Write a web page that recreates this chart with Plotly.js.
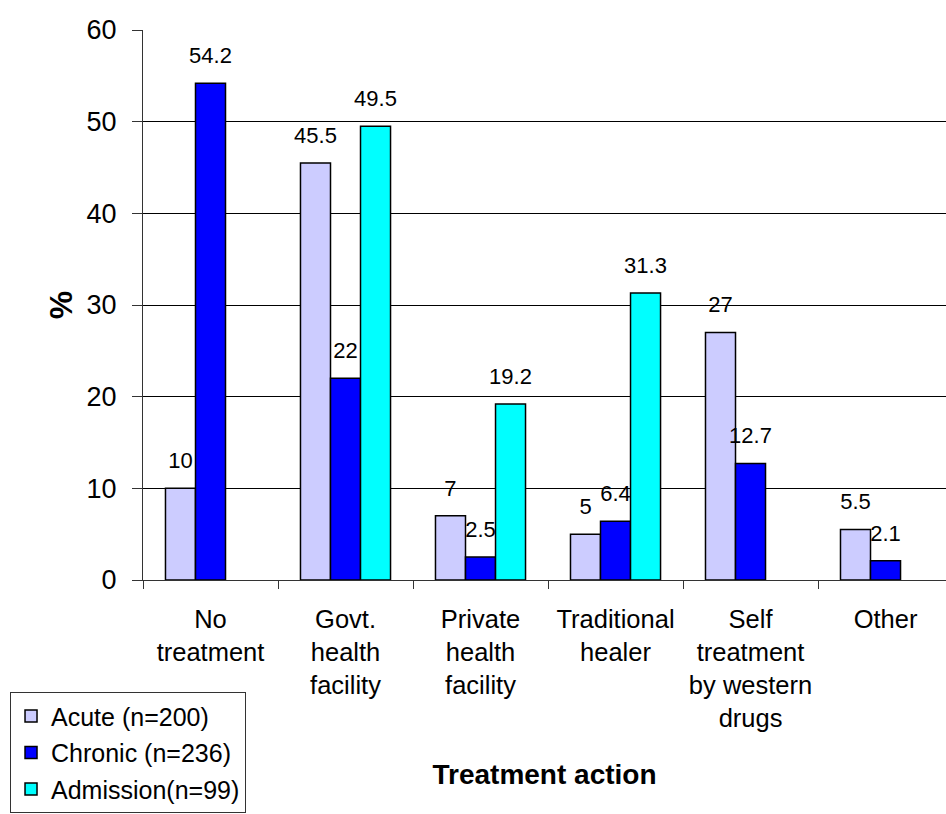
<!DOCTYPE html>
<html>
<head>
<meta charset="utf-8">
<script src="https://cdn.plot.ly/plotly-3.0.1.min.js"></script>
<style>html,body{margin:0;padding:0;background:#fff;}#chart{width:946px;height:814px;}</style>
</head>
<body>
<div id="chart"></div>
<script>
var categories = ["No treatment", "Govt. health facility", "Private health facility", "Traditional healer", "Self treatment by western drugs", "Other"];
var tickLabels = ["No<br>treatment", "Govt.<br>health<br>facility", "Private<br>health<br>facility", "Traditional<br>healer", "Self<br>treatment<br>by western<br>drugs", "Other"];
var seriesNames = ["Acute (n=200)", "Chronic (n=236)", "Admission(n=99)"];
var acute = [10, 45.5, 7, 5, 27, 5.5];
var chronic = [54.2, 22, 2.5, 6.4, 12.7, 2.1];
var admission = [null, 49.5, 19.2, 31.3, null, null];
var colors = ["#CCCCFF", "#0000FF", "#00FFFF"];

var FONT = "Liberation Sans, Arial, sans-serif";
var series = [acute, chronic, admission];
var traces = [];
series.forEach(function (vals, i) {
  traces.push({
    type: "bar", x: categories, y: vals, name: seriesNames[i],
    legendgroup: "g" + i,
    marker: { color: colors[i], line: { color: "#000", width: 1.5 } },
    hoverinfo: "skip"
  });
});
series.forEach(function (vals, i) {
  traces.push({
    type: "scatter", mode: "markers+text", x: categories, y: vals,
    text: vals.map(function (v) { return v === null ? "" : String(v); }),
    textposition: "top center",
    textfont: { family: FONT, size: 22, color: "#000" },
    marker: { size: 22, opacity: 0 },
    showlegend: false, hoverinfo: "skip", cliponaxis: false
  });
});

var layout = {
  width: 946, height: 814,
  margin: { l: 143, r: 0, t: 30, b: 234 },
  paper_bgcolor: "#fff", plot_bgcolor: "#fff",
  font: { family: FONT, color: "#000" },
  barmode: "group", bargap: 0.333, bargroupgap: 0,
  scattermode: "group",
  showlegend: true,
  legend: {
    x: -0.1656, y: -0.204, xanchor: "left", yanchor: "top",
    bordercolor: "#333", borderwidth: 1, bgcolor: "#fff",
    font: { family: FONT, size: 25, color: "#000" },
    tracegroupgap: 1
  },
  xaxis: {
    type: "category", range: [-0.5, 5.448],
    tickvals: categories, ticktext: tickLabels,
    tickson: "boundaries", ticks: "outside", ticklen: 8, tickcolor: "#333",
    tickfont: { family: FONT, size: 25.5, color: "#000" },
    ticklabelstandoff: 16,
    showline: true, linecolor: "#333", linewidth: 1,
    showgrid: false, zeroline: false,
    title: { text: "<b>Treatment action</b>", font: { family: FONT, size: 28, color: "#000" }, standoff: 33 }
  },
  yaxis: {
    range: [0, 60], tickvals: [0, 10, 20, 30, 40, 50, 60],
    ticks: "outside", ticklen: 10, tickcolor: "#333",
    tickfont: { family: FONT, size: 27, color: "#000" },
    ticklabelstandoff: 10,
    showline: true, linecolor: "#333", linewidth: 1,
    showgrid: true, gridcolor: "#000", gridwidth: 1, zeroline: false,
    title: { text: "<b>%</b>", font: { family: FONT, size: 32, color: "#000" }, standoff: 4 }
  }
};

Plotly.newPlot("chart", traces, layout, { displayModeBar: false, staticPlot: true });
</script>
</body>
</html>
